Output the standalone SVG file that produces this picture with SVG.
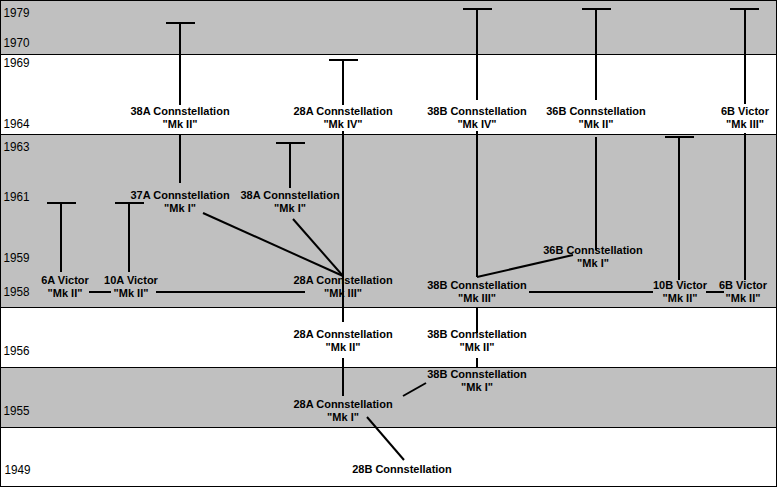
<svg xmlns="http://www.w3.org/2000/svg" width="777" height="487" viewBox="0 0 777 487">
<style>
.g{fill:#c0c0c0;stroke:#000;stroke-width:1}
.w{fill:#fff;stroke:#000;stroke-width:1}
.y{font-family:"Liberation Sans",Arial,sans-serif;font-size:13px;fill:#000}
.t{font-family:"Liberation Sans",Arial,sans-serif;font-size:11px;font-weight:bold;text-anchor:middle;fill:#000}
.c line{stroke:#000;stroke-width:2}
</style>
<rect class="g" x="0.5" y="0.5" width="776" height="54"/>
<rect class="w" x="0.5" y="54.5" width="776" height="80"/>
<rect class="g" x="0.5" y="134.5" width="776" height="173"/>
<rect class="w" x="0.5" y="307.5" width="776" height="60"/>
<rect class="g" x="0.5" y="367.5" width="776" height="60"/>
<rect class="w" x="0.5" y="427.5" width="776" height="59"/>
<g id="years" class="y" transform="scale(0.9,1)">
<text x="4" y="17">1979</text><text x="4" y="47">1970</text><text x="4" y="67">1969</text>
<text x="4" y="128">1964</text><text x="4" y="151">1963</text><text x="4" y="201">1961</text>
<text x="4" y="262">1959</text><text x="4" y="296">1958</text><text x="4" y="355">1956</text>
<text x="4" y="415">1955</text><text x="5" y="474">1949</text>
</g>
<g class="c" id="connectors">
<line x1="166" y1="23" x2="195" y2="23"/><line x1="180" y1="23" x2="180" y2="105"/><line x1="180" y1="135" x2="180" y2="183"/>
<line x1="329" y1="60" x2="358" y2="60"/><line x1="343" y1="60" x2="343" y2="105"/><line x1="343" y1="131" x2="343" y2="322"/>
<line x1="463" y1="9" x2="492" y2="9"/><line x1="477" y1="9" x2="477" y2="100"/><line x1="477" y1="131" x2="477" y2="277"/>
<line x1="582" y1="9" x2="611" y2="9"/><line x1="596" y1="9" x2="596" y2="100"/><line x1="596" y1="137" x2="596" y2="250"/>
<line x1="730" y1="9" x2="759" y2="9"/><line x1="745" y1="9" x2="745" y2="104"/><line x1="745" y1="133" x2="745" y2="280"/>
<line x1="276" y1="143" x2="305" y2="143"/><line x1="290" y1="143" x2="290" y2="188"/>
<line x1="47" y1="203" x2="76" y2="203"/><line x1="61" y1="203" x2="61" y2="272"/>
<line x1="115" y1="203" x2="144" y2="203"/><line x1="129" y1="203" x2="129" y2="272"/>
<line x1="665" y1="137" x2="694" y2="137"/><line x1="679" y1="137" x2="679" y2="280"/>
<line x1="203" y1="213" x2="343" y2="276"/><line x1="293" y1="219" x2="343" y2="276"/>
<line x1="89" y1="292" x2="111" y2="292"/><line x1="156" y1="292" x2="305" y2="292"/>
<line x1="529" y1="292" x2="653" y2="292"/><line x1="706" y1="292" x2="724" y2="292"/>
<line x1="477" y1="277" x2="573" y2="255"/>
<line x1="343" y1="358" x2="343" y2="396"/>
<line x1="477" y1="307" x2="477" y2="333"/><line x1="477" y1="358" x2="477" y2="367"/>
<line x1="403" y1="396" x2="426" y2="383"/>
<line x1="367" y1="417" x2="404" y2="460"/>
</g>
<g id="n38AMkII"><text class="t" x="180" y="115">38A Connstellation</text><text class="t" x="180" y="128">"Mk II"</text></g>
<g id="n28AMkIV"><text class="t" x="343" y="115">28A Connstellation</text><text class="t" x="343" y="128">"Mk IV"</text></g>
<g id="n38BMkIV"><text class="t" x="477" y="115">38B Connstellation</text><text class="t" x="477" y="128">"Mk IV"</text></g>
<g id="n36BMkII"><text class="t" x="596" y="115">36B Connstellation</text><text class="t" x="596" y="128">"Mk II"</text></g>
<g id="n6BMkIII"><text class="t" x="745" y="115">6B Victor</text><text class="t" x="745" y="128">"Mk III"</text></g>
<g id="n37AMkI"><text class="t" x="180" y="199">37A Connstellation</text><text class="t" x="180" y="212">"Mk I"</text></g>
<g id="n38AMkI"><text class="t" x="290" y="199">38A Connstellation</text><text class="t" x="290" y="212">"Mk I"</text></g>
<g id="n6AMkII"><text class="t" x="65" y="284">6A Victor</text><text class="t" x="65" y="297">"Mk II"</text></g>
<g id="n10AMkII"><text class="t" x="131" y="284">10A Victor</text><text class="t" x="131" y="297">"Mk II"</text></g>
<g id="n28AMkIII"><text class="t" x="343" y="284">28A Connstellation</text><text class="t" x="343" y="297">"Mk III"</text></g>
<g id="n36BMkI"><text class="t" x="593" y="254">36B Connstellation</text><text class="t" x="593" y="267">"Mk I"</text></g>
<g id="n38BMkIII"><text class="t" x="477" y="289">38B Connstellation</text><text class="t" x="477" y="302">"Mk III"</text></g>
<g id="n10BMkII"><text class="t" x="680" y="289">10B Victor</text><text class="t" x="680" y="302">"Mk II"</text></g>
<g id="n6BMkII"><text class="t" x="743" y="289">6B Victor</text><text class="t" x="743" y="302">"Mk II"</text></g>
<g id="n28AMkII_"><text class="t" x="343" y="338">28A Connstellation</text><text class="t" x="343" y="351">"Mk II"</text></g>
<g id="n38BMkII_"><text class="t" x="477" y="338">38B Connstellation</text><text class="t" x="477" y="351">"Mk II"</text></g>
<g id="n38BMkI"><text class="t" x="477" y="378">38B Connstellation</text><text class="t" x="477" y="391">"Mk I"</text></g>
<g id="n28AMkI"><text class="t" x="343" y="408">28A Connstellation</text><text class="t" x="343" y="421">"Mk I"</text></g>
<g id="n28B"><text class="t" x="402" y="473">28B Connstellation</text></g>
</svg>
